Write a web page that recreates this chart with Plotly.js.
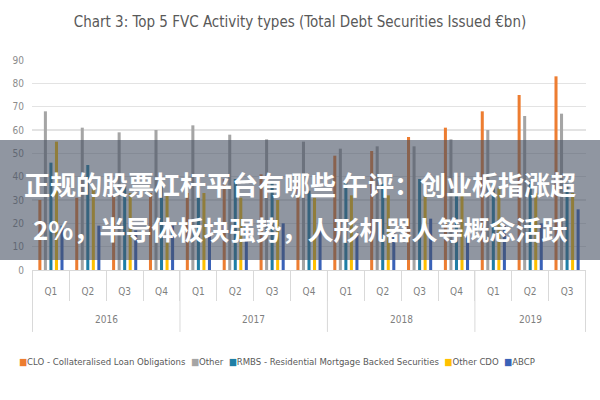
<!DOCTYPE html>
<html>
<head>
<meta charset="utf-8">
<script src="https://cdn.plot.ly/plotly-3.0.1.min.js"></script>
<style>html,body{margin:0;padding:0;background:#fff;}#chart{width:600px;height:400px;}</style>
</head>
<body>
<div id="chart"></div>
<script>
const years = ["2016","2016","2016","2016","2017","2017","2017","2017","2018","2018","2018","2018","2019","2019","2019"];
const quarters = ["Q1","Q2","Q3","Q4","Q1","Q2","Q3","Q4","Q1","Q2","Q3","Q4","Q1","Q2","Q3"];

const seriesNames = ["CLO - Collateralised Loan Obligations","Other","RMBS - Residential Mortgage Backed Securities","Other CDO","ABCP"];
const clo     = [30, 31, 32, 33, 33, 39, 41, 38, 49, 51, 57, 61, 68, 75, 83];
const other   = [68, 61, 59, 60, 62, 58, 56, 55, 52, 53, 53, 56, 60, 66, 67];
const rmbs    = [46, 45, 36, 36, 39, 39, 38, 34, 38, 37, 39, 33, 37, 38, 37];
const otherCdo= [55, 35, 33, 33, 33, 31, 30, 31, 32, 32, 32, 35, 35, 33, 33];
const abcp    = [19, 19, 17, 19, 17, 19, 20, 17, 16, 16, 22, 16, 19, 20, 26];

const colors = ["#ED7D31","#A5A5A5","#1F7FA6","#FFC000","#3A62B8"];
const values = [clo, other, rmbs, otherCdo, abcp];

const bannerLine1 = "正规的股票杠杆平台有哪些 午评：创业板指涨超";
const bannerLine2 = "2%，半导体板块强势，人形机器人等概念活跃";

const FONT = "'Liberation Sans Narrow', 'DejaVu Sans Condensed', 'Liberation Sans', sans-serif";
const CJK = "'Noto Sans CJK SC', 'Noto Sans', sans-serif";

// unique category per quarter; tick text shows the quarter, year shown underneath
const cats = years.map((y, i) => y + " " + quarters[i]);

const traces = values.map((v, i) => ({
  type: "bar",
  name: seriesNames[i],
  x: cats,
  y: v,
  marker: {color: colors[i]},
  hoverinfo: "skip",
  showlegend: false
}));

// year groups (derived from the years array)
const yearList = [...new Set(years)];
const yearAnn = yearList.map(yr => {
  const idx = years.map((y, i) => y === yr ? i : -1).filter(i => i >= 0);
  const mid = (idx[0] + idx[idx.length - 1]) / 2;
  return {text: yr, xref: "x", yref: "paper", x: mid, y: -0.238, xanchor: "center", yanchor: "middle",
          showarrow: false, font: {family: FONT, size: 10, color: "#7f7f7f"}};
});
const dividerIdx = [];
years.forEach((y, i) => { if (i === 0 || years[i - 1] !== y) dividerIdx.push(i - 0.5); });
dividerIdx.push(years.length - 0.5);
const dividerShapes = dividerIdx.map(p => ({
  type: "line", xref: "x", yref: "paper", x0: p, x1: p, y0: 0, y1: -0.295,
  line: {color: "#d9d9d9", width: 1}
}));

// legend line built from the series names and colours
const legendText = seriesNames.map((n, i) =>
  '<span style="color:' + colors[i] + '">■</span>' + n).join('&nbsp;&nbsp;');

const layout = {
  width: 600, height: 400,
  margin: {l: 32, r: 14, t: 60, b: 130},
  paper_bgcolor: "#ffffff",
  plot_bgcolor: "#ffffff",
  font: {family: FONT, color: "#7f7f7f", size: 11},
  title: {
    text: "Chart 3: Top 5 FVC Activity types (Total Debt Securities Issued €bn)",
    font: {family: FONT, size: 15, color: "#595959"},
    x: 0.5, xanchor: "center", y: 0.945, yanchor: "middle"
  },
  barmode: "group",
  bargap: 0.25,
  bargroupgap: 0.45,
  showlegend: false,
  xaxis: {
    type: "category",
    tickmode: "array",
    tickvals: cats,
    ticktext: quarters,
    showgrid: false,
    showline: true,
    linecolor: "#d9d9d9",
    ticks: "outside",
    tickson: "boundaries",
    ticklen: 30,
    tickcolor: "#d9d9d9",
    ticklabelstandoff: 12,
    tickfont: {family: FONT, size: 10, color: "#7f7f7f"}
  },
  yaxis: {
    range: [0, 90],
    dtick: 10,
    showgrid: true,
    gridcolor: "#e3e3e3",
    gridwidth: 1.5,
    zeroline: false,
    showline: false,
    ticklabelstandoff: 7,
    tickfont: {family: FONT, size: 10, color: "#8c8c8c"}
  },
  shapes: dividerShapes.concat([{
    type: "rect", xref: "paper", yref: "paper", layer: "above",
    x0: -0.06, x1: 1.03, y0: 0.0476, y1: 0.619,
    fillcolor: "rgba(70,80,98,0.6)", line: {width: 0}
  }]),
  annotations: yearAnn.concat([
    {text: legendText, xref: "paper", yref: "paper", x: 0.442, y: -0.438, xanchor: "center", yanchor: "middle",
     showarrow: false, font: {family: FONT, size: 9.5, color: "#595959"}},
    {text: bannerLine1, xref: "paper", yref: "paper", x: 0.4838, y: 0.414, xanchor: "center", yanchor: "middle",
     showarrow: false, font: {family: CJK, size: 26, color: "#ffffff", weight: "bold"}},
    {text: bannerLine2, xref: "paper", yref: "paper", x: 0.4838, y: 0.2, xanchor: "center", yanchor: "middle",
     showarrow: false, font: {family: CJK, size: 26, color: "#ffffff", weight: "bold"}}
  ])
};

Plotly.newPlot("chart", traces, layout, {displayModeBar: false, staticPlot: true});
</script>
</body>
</html>
